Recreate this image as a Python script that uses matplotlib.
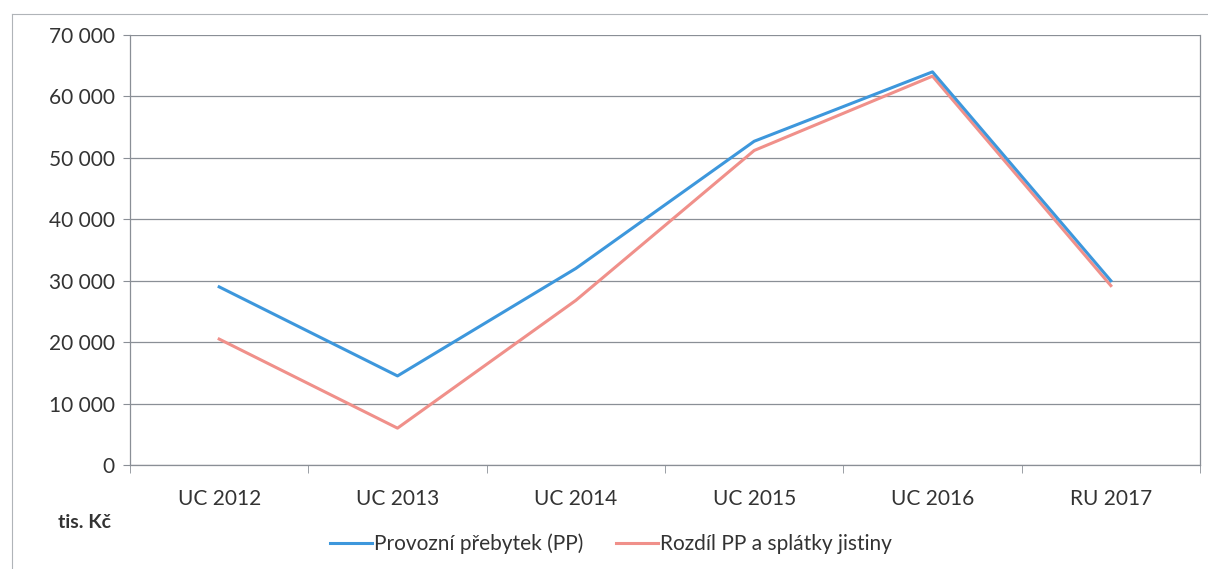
import matplotlib
matplotlib.use("Agg")
import matplotlib.pyplot as plt
from matplotlib.lines import Line2D
from matplotlib.ticker import FuncFormatter

# data (tis. Kc)
years = ["UC 2012", "UC 2013", "UC 2014", "UC 2015", "UC 2016", "RU 2017"]
prebytek = [29000, 14500, 32000, 52700, 64000, 30000]
rozdil = [20500, 6000, 26800, 51200, 63300, 29200]
yticks = [0, 10000, 20000, 30000, 40000, 50000, 60000, 70000]

plt.rcParams['font.family'] = ['Lato', 'DejaVu Sans']

fig = plt.figure(figsize=(12.08, 5.69), dpi=100)
ax = fig.add_axes([130/1208, 1-465/569, 1070/1208, 430/569])

x = list(range(len(years)))
ax.plot(x, prebytek, color="#3d97dc", lw=2.2, label="Provozní přebytek (PP)", zorder=3)
ax.plot(x, rozdil, color="#f0908a", lw=2.2, label="Rozdíl PP a splátky jistiny", zorder=2)

ax.set_xlim(-0.5, len(years) - 0.5)
ax.set_ylim(0, 70000)
ax.set_yticks(yticks)
ax.yaxis.set_major_formatter(FuncFormatter(lambda v, p: "{:,}".format(int(v)).replace(",", " ")))
ax.set_xticks(x)
ax.set_xticklabels(years)
ax.set_xticks([i - 0.5 for i in range(len(years) + 1)], minor=True)

ax.grid(axis="y", color="#8a8f96", lw=0.9)
ax.set_axisbelow(True)
ax.spines["top"].set_visible(False)
for s in ["left", "right", "bottom"]:
    ax.spines[s].set_color("#8a8f96")
    ax.spines[s].set_linewidth(0.9)

ax.tick_params(axis="y", length=5, color="#8a8f96", labelsize=15, labelcolor="#333333", pad=6)
ax.tick_params(axis="x", which="major", length=0, labelsize=15, labelcolor="#333333", pad=17)
ax.tick_params(axis="x", which="minor", length=6, color="#8a8f96")

fig.text(85/1208, 1-523/569, "tis. Kč", fontsize=14, fontweight="bold", color="#333333",
         ha="center", va="center")

leg = fig.legend(loc="center", bbox_to_anchor=(611/1208, 1-544/569), ncol=2, frameon=False,
                 fontsize=15, handlelength=2.0, handletextpad=0.1, columnspacing=1.6,
                 labelcolor="#333333")

# outer chart frame (scan)
fig.add_artist(Line2D([12/1208, 12/1208], [0, 1-14/569], color="#b0b4b8", lw=0.8))
fig.add_artist(Line2D([12/1208, 1], [1-14/569, 1-14/569], color="#b0b4b8", lw=0.8))

fig.savefig("out.png", dpi=100)
